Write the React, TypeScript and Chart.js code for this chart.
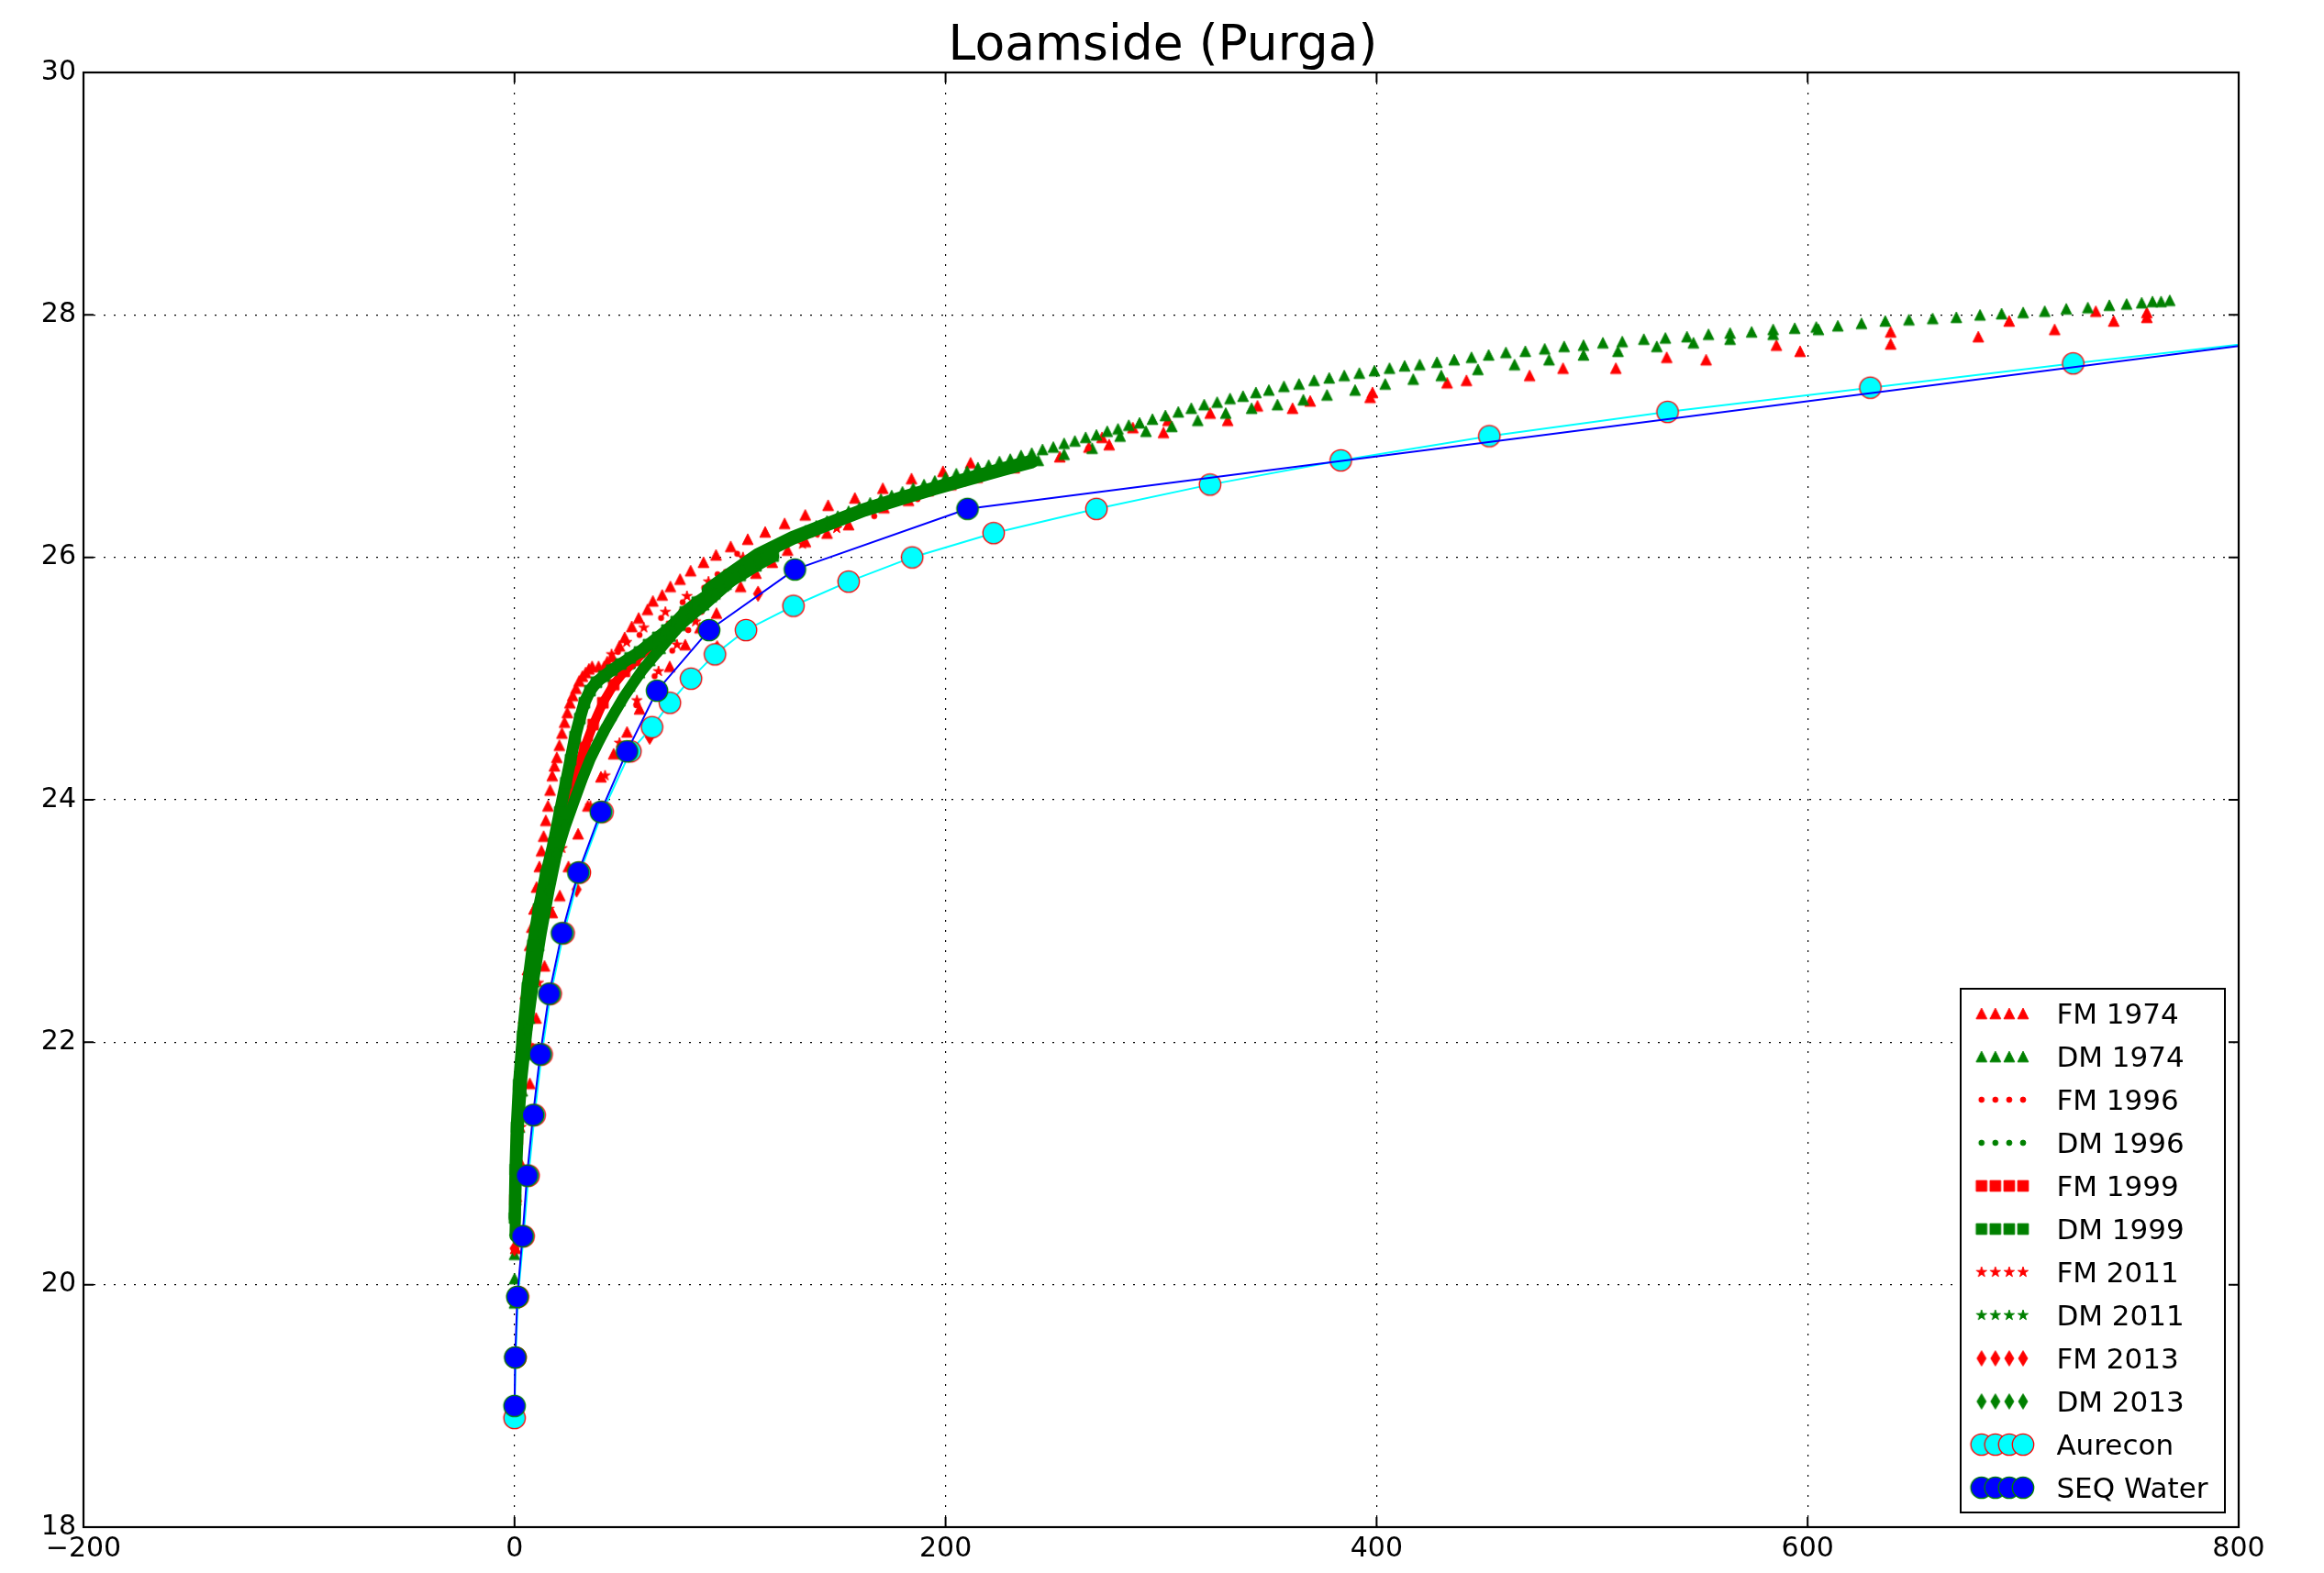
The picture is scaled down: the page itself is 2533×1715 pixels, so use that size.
import React, { useEffect, useRef } from 'react';
import { Chart, registerables } from 'chart.js';

Chart.register(...registerables);

const TITLE = 'Loamside (Purga)';
const X_TICKS = [-200, 0, 200, 400, 600, 800];
const Y_TICKS = [18, 20, 22, 24, 26, 28, 30];
const LEGEND_LABELS = ['FM 1974', 'DM 1974', 'FM 1996', 'DM 1996', 'FM 1999', 'DM 1999', 'FM 2011', 'DM 2011', 'FM 2013', 'DM 2013', 'Aurecon', 'SEQ Water'];

// FM 1974 (red triangles)
const FM1974_X = [1, 1.5, 2, 2.7, 3.5, 4.2, 5, 6, 7, 8, 9, 10.2, 11.5, 12.5, 13.5, 14.5, 15.5, 16.5, 17.5, 18.5, 19.6, 20.8, 22, 23.2, 24.5, 25.7, 27, 28.5, 30, 31.5, 33, 34.5, 36, 39, 41.6, 43, 45.4, 48.7, 51.1, 54.4, 57.6, 61.7, 64.2, 68.5, 72.3, 76.8, 81.7, 87.7, 93.5, 100.3, 108.2, 116.3, 125.3, 134.9, 145.5, 157.9, 170.9, 184.2, 198.8, 211.6,
  0.5, 3, 7.1, 10, 13.9, 17.5, 21, 25, 29.5, 34, 40.1, 46, 52.2, 58, 65, 72, 79.2, 86, 93.7, 104.9, 112, 119.6, 126.7, 135, 145, 155, 171.4, 182.8, 191.9, 202.5, 214.7, 231.9, 253, 266.5, 272.6, 275.9, 286.9, 301.1, 303.2, 322.8, 330.9, 344.7, 361, 369.2, 397, 398.1, 432.7, 441.7, 471, 486.5, 511, 534.6, 552.9, 585.5, 596.5, 638.5, 638.5, 679.2, 693.5, 714.6, 733.7, 742, 757.4, 757.4];
const FM1974_Y = [21.2, 21.4, 21.6, 21.8, 22.0, 22.2, 22.4, 22.6, 22.8, 22.95, 23.1, 23.28, 23.45, 23.58, 23.7, 23.83, 23.95, 24.08, 24.2, 24.28, 24.35, 24.45, 24.55, 24.64, 24.72, 24.8, 24.86, 24.92, 24.98, 25.02, 25.05, 25.08, 25.1, 25.1, 25.1, 25.14, 25.18, 25.27, 25.34, 25.43, 25.50, 25.57, 25.64, 25.69, 25.76, 25.82, 25.89, 25.96, 26.02, 26.09, 26.15, 26.21, 26.28, 26.35, 26.43, 26.49, 26.57, 26.65, 26.71, 26.78,
  20.3, 21.0, 21.66, 22.2, 22.63, 23.07, 23.21, 23.45, 23.72, 23.95, 24.19, 24.38, 24.56, 24.75, 24.92, 25.1, 25.28, 25.42, 25.54, 25.76, 25.87, 25.96, 26.06, 26.13, 26.2, 26.27, 26.41, 26.47, 26.55, 26.60, 26.66, 26.74, 26.83, 26.91, 26.99, 26.93, 27.07, 27.03, 27.13, 27.19, 27.13, 27.25, 27.23, 27.29, 27.32, 27.36, 27.44, 27.46, 27.50, 27.56, 27.56, 27.65, 27.63, 27.75, 27.70, 27.76, 27.86, 27.82, 27.95, 27.88, 28.03, 27.95, 27.98, 28.02];

// DM 1974 (green triangles)
const DM1974_X = [0, 0, 0, 0.2, 0.6, 1.3, 2.3, 3.6, 5.2, 7.0, 9.0, 11.3, 13.8, 16.5, 19.5, 22.8, 26.3, 29.8, 33.4, 37, 40.8, 44.8, 49, 53.4, 58, 62.8, 67.6, 72.5, 77.5, 82.6, 87.8, 93, 98.2, 103.5,
  109, 115, 120, 125, 130, 135, 140, 145, 150, 155, 160, 165, 170, 175, 180, 185, 190, 195,
  200, 205, 210, 215, 220, 225, 230, 235, 240, 245, 250, 255, 260, 265, 270, 275, 280, 285, 290, 296, 302, 308, 314, 320, 326, 332, 338, 344, 350, 357, 364, 371, 378, 385, 392, 399, 406, 413, 420, 428, 436, 444, 452, 460, 469, 478, 487, 496, 505, 514, 524, 534, 544, 554, 564, 574, 584, 594, 604, 614, 625, 636, 647, 658, 669, 680, 690, 700, 710, 720, 730, 740, 748, 755, 760, 764, 768,
  243, 255, 268, 281, 293, 305, 317, 330, 342, 354, 366, 377, 390, 404, 417, 430, 447, 464, 480, 496, 512, 530, 547, 564, 584, 605];
const DM1974_Y = [19.85, 20.05, 20.25, 20.45, 20.7, 21.0, 21.3, 21.6, 21.9, 22.2, 22.5, 22.8, 23.1, 23.35, 23.58, 23.8, 24.0, 24.16, 24.31, 24.45, 24.58, 24.7, 24.82, 24.94, 25.05, 25.15, 25.25, 25.35, 25.44, 25.53, 25.61, 25.7, 25.78, 25.86,
  25.95, 26.03, 26.08, 26.13, 26.18, 26.22, 26.26, 26.3, 26.34, 26.38, 26.41, 26.45, 26.48, 26.51, 26.54, 26.57, 26.6, 26.63,
  26.66, 26.69, 26.71, 26.74, 26.76, 26.79, 26.81, 26.84, 26.86, 26.89, 26.91, 26.94, 26.96, 26.99, 27.01, 27.04, 27.06, 27.09, 27.11, 27.14, 27.17, 27.2, 27.23, 27.26, 27.28, 27.31, 27.33, 27.36, 27.38, 27.41, 27.43, 27.46, 27.48, 27.5, 27.52, 27.54, 27.56, 27.58, 27.59, 27.61, 27.63, 27.65, 27.67, 27.69, 27.7, 27.72, 27.74, 27.75, 27.77, 27.78, 27.8, 27.81, 27.82, 27.84, 27.85, 27.86, 27.88, 27.89, 27.9, 27.91, 27.93, 27.95, 27.96, 27.97, 27.98, 28.0, 28.01, 28.02, 28.03, 28.05, 28.06, 28.08, 28.09, 28.1, 28.11, 28.11, 28.12,
  26.8, 26.85, 26.9, 27.0, 27.04, 27.08, 27.13, 27.19, 27.23, 27.26, 27.3, 27.34, 27.38, 27.43, 27.47, 27.5, 27.55, 27.59, 27.63, 27.67, 27.7, 27.74, 27.77, 27.8, 27.84, 27.88];

// FM 1996 (red dots)
const FM1996_X = [0.5, 2, 5, 9, 14, 20, 27, 35, 45, 48, 56.5, 58, 65, 68, 73.2, 78, 80.6, 86.7, 88, 94.2, 98, 103.3, 115, 125, 140.4, 166.9, 187, 209.1, 228.6, 266.3];
const FM1996_Y = [20.6, 21.3, 22.1, 22.8, 23.35, 23.8, 24.2, 24.5, 24.7, 25.22, 24.78, 25.36, 25.02, 25.5, 25.23, 25.63, 25.40, 25.55, 25.75, 25.86, 25.88, 26.03, 26.04, 26.12, 26.19, 26.34, 26.48, 26.61, 26.72, 26.90];

// DM 1996 (green dots)
const DM1996_X = [0, 1, 4, 10, 20, 35, 55, 80, 120, 160, 200];
const DM1996_Y = [20.3, 21.1, 22.1, 23.0, 23.85, 24.6, 25.1, 25.58, 26.08, 26.4, 26.62];

// FM 1999 (red squares, dense)
const FM1999_X = [0.3, 1.2, 2.6, 4.6, 7.2, 10.2, 13.5, 17, 20.5, 24.5, 28.5, 32.5, 36.5, 41, 46, 51, 56, 61.5, 67, 73, 79, 86, 93, 100];
const FM1999_Y = [20.7, 21.2, 21.6, 22.0, 22.4, 22.8, 23.15, 23.45, 23.72, 23.98, 24.22, 24.43, 24.62, 24.8, 24.95, 25.06, 25.15, 25.24, 25.33, 25.43, 25.53, 25.63, 25.73, 25.82];

// DM 1999 (green squares, dense)
const DM1999_X = [0, 0.4, 1.0, 2.0, 3.8, 6.0, 8.5, 11.2, 14.5, 18.1, 21, 23.8, 26, 28.1, 30.3, 32.4, 35, 38, 41.5, 45.1, 49.3, 53.6, 58, 62.2, 66.5, 70.7, 75, 79.2, 84.8, 90.5, 97.6, 104.7, 112, 120];
const DM1999_Y = [20.55, 20.95, 21.3, 21.65, 22.05, 22.45, 22.8, 23.1, 23.38, 23.64, 23.9, 24.14, 24.33, 24.52, 24.67, 24.80, 24.9, 24.97, 25.02, 25.07, 25.12, 25.17, 25.22, 25.28, 25.34, 25.40, 25.47, 25.55, 25.63, 25.70, 25.78, 25.85, 25.93, 26.01];

// FM 2011 (red stars)
const FM2011_X = [3, 7.5, 11.1, 16, 22, 35.2, 42, 45, 48.7, 52, 56.8, 60, 66.8, 70, 75.4, 80, 84, 90, 91.2, 100, 106, 110, 120, 133.6, 139.5, 149.5];
const FM2011_Y = [21.3, 21.97, 22.49, 23.1, 23.6, 23.95, 24.2, 25.2, 24.47, 25.3, 24.82, 25.42, 25.06, 25.55, 25.28, 25.68, 25.47, 25.8, 25.67, 25.82, 26.0, 26.0, 26.08, 26.11, 26.2, 26.24];

// DM 2011 (green stars, dense)
const DM2011_X = [90, 100, 113, 129, 146, 162, 178, 195, 211, 227, 240];
const DM2011_Y = [25.73, 25.86, 26.02, 26.16, 26.28, 26.39, 26.48, 26.57, 26.65, 26.73, 26.79];

// FM 2013 (red diamonds)
const FM2013_X = [0, 1.1, 8.5, 28.8, 62.7, 94, 113];
const FM2013_Y = [20.3, 20.69, 21.93, 23.26, 24.52, 25.25, 25.7];

// DM 2013 (green diamonds, dense)
const DM2013_X = [0.2, 0.8, 1.8, 3.4, 5.8, 8.8, 12.2, 16.0, 19.5, 23.5, 28.1, 31.6, 35.2, 38.8, 42.3, 46.5, 50.8, 55, 59.3, 63.5, 67.8, 72, 76.3, 82, 87.7, 93.4, 99.1, 106, 113];
const DM2013_Y = [20.4, 20.85, 21.3, 21.7, 22.1, 22.5, 22.88, 23.25, 23.55, 23.78, 24.01, 24.18, 24.34, 24.47, 24.59, 24.72, 24.85, 24.96, 25.07, 25.16, 25.25, 25.34, 25.43, 25.52, 25.60, 25.69, 25.78, 25.88, 25.97];

// Aurecon
const AURECON_X = [0, 0.5, 1.6, 4.2, 6.5, 9.3, 12.6, 16.8, 22.8, 30.3, 40.8, 53.8, 63.8, 72.1, 81.9, 93.0, 107.4, 129.4, 155, 184.5, 222.3, 270, 322.7, 383.4, 452.3, 535, 629.1, 723.2, 822];
const AURECON_Y = [18.9, 19.4, 19.9, 20.4, 20.9, 21.4, 21.9, 22.4, 22.9, 23.4, 23.9, 24.4, 24.6, 24.8, 25.0, 25.2, 25.4, 25.6, 25.8, 26.0, 26.2, 26.4, 26.6, 26.8, 27.0, 27.2, 27.4, 27.6, 27.8];

// SEQ Water
const SEQ_X = [0, 0.3, 1.3, 3.7, 5.8, 8.6, 11.9, 16.1, 22.0, 29.6, 40.0, 52.2, 66.1, 90.3, 130.1, 210.2, 1000];
const SEQ_Y = [19.0, 19.4, 19.9, 20.4, 20.9, 21.4, 21.9, 22.4, 22.9, 23.4, 23.9, 24.4, 24.9, 25.4, 25.9, 26.4, 28.2];

const RED = '#ff0000';
const GREEN = '#008000';
const FONT = "'DejaVu Sans'";

type Kind = 'tri' | 'dot' | 'sq' | 'star' | 'dia' | 'circle';

function makeMarker(kind: Kind, face: string, edge: string, edgeWidth: number): HTMLCanvasElement {
  const S = 11.7;
  let w = S, h = S;
  if (kind === 'dot') { w = h = S * 0.5; }
  if (kind === 'dia') { h = S * Math.SQRT2; w = h * 0.6; }
  if (kind === 'circle') { w = h = 23.4; }
  const pad = edgeWidth + 2;
  const cw = Math.ceil(w + 2 * pad);
  const ch = Math.ceil(h + 2 * pad);
  const c = document.createElement('canvas');
  c.width = cw;
  c.height = ch;
  const ctx = c.getContext('2d') as CanvasRenderingContext2D;
  const cx = cw / 2, cy = ch / 2;
  ctx.beginPath();
  if (kind === 'tri') {
    ctx.moveTo(cx, cy - h / 2); ctx.lineTo(cx + w / 2, cy + h / 2); ctx.lineTo(cx - w / 2, cy + h / 2); ctx.closePath();
  } else if (kind === 'sq') {
    ctx.rect(cx - w / 2, cy - h / 2, w, h);
  } else if (kind === 'dot' || kind === 'circle') {
    ctx.arc(cx, cy, w / 2, 0, Math.PI * 2);
  } else if (kind === 'dia') {
    ctx.moveTo(cx, cy - h / 2); ctx.lineTo(cx + w / 2, cy); ctx.lineTo(cx, cy + h / 2); ctx.lineTo(cx - w / 2, cy); ctx.closePath();
  } else if (kind === 'star') {
    const R = S / 2, r = R * 0.381966;
    for (let i = 0; i < 10; i++) {
      const rad = i % 2 === 0 ? R : r;
      const a = -Math.PI / 2 + (i * Math.PI) / 5;
      const px = cx + rad * Math.cos(a), py = cy + rad * Math.sin(a);
      if (i === 0) ctx.moveTo(px, py); else ctx.lineTo(px, py);
    }
    ctx.closePath();
  }
  ctx.fillStyle = face;
  ctx.fill();
  if (edgeWidth > 0) { ctx.lineWidth = edgeWidth; ctx.strokeStyle = edge; ctx.stroke(); }
  return c;
}

const pts = (xs: number[], ys: number[]) => xs.map((x, i) => ({ x, y: ys[i] }));
const fmt = (v: number) => (v < 0 ? '\u2212' + Math.abs(v) : String(v));

export default function App() {
  const ref = useRef<HTMLCanvasElement | null>(null);
  useEffect(() => {
    if (!ref.current) return;
    const markers = [
      makeMarker('tri', RED, RED, 1),
      makeMarker('tri', GREEN, GREEN, 1),
      makeMarker('dot', RED, RED, 1),
      makeMarker('dot', GREEN, GREEN, 1),
      makeMarker('sq', RED, RED, 1),
      makeMarker('sq', GREEN, GREEN, 1),
      makeMarker('star', RED, RED, 1),
      makeMarker('star', GREEN, GREEN, 1),
      makeMarker('dia', RED, RED, 1),
      makeMarker('dia', GREEN, GREEN, 1),
      makeMarker('circle', '#00ffff', RED, 1.3),
      makeMarker('circle', '#0000ff', GREEN, 1.3),
    ];
    const series: [number[], number[]][] = [
      [FM1974_X, FM1974_Y], [DM1974_X, DM1974_Y], [FM1996_X, FM1996_Y], [DM1996_X, DM1996_Y],
      [FM1999_X, FM1999_Y], [DM1999_X, DM1999_Y], [FM2011_X, FM2011_Y], [DM2011_X, DM2011_Y],
      [FM2013_X, FM2013_Y], [DM2013_X, DM2013_Y], [AURECON_X, AURECON_Y], [SEQ_X, SEQ_Y],
    ];
    // dense marker trails drawn as a thick stroke of the same colour
    const trail: Record<number, { color: string; width: number }> = {
      4: { color: RED, width: 10 },
      5: { color: GREEN, width: 13 },
      7: { color: GREEN, width: 15 },
      9: { color: GREEN, width: 12 },
      10: { color: '#00ffff', width: 2 },
      11: { color: '#0000ff', width: 2 },
    };
    const datasets = series.map(([xs, ys], i) => {
      const t = trail[i];
      return {
        label: LEGEND_LABELS[i],
        data: pts(xs, ys),
        pointStyle: markers[i],
        pointRadius: 5,
        showLine: !!t,
        borderColor: t ? t.color : 'rgba(0,0,0,0)',
        backgroundColor: t ? t.color : 'rgba(0,0,0,0)',
        borderWidth: t ? t.width : 0,
        borderJoinStyle: 'round' as const,
        borderCapStyle: 'round' as const,
        tension: 0,
        order: 11 - i,
      };
    });

    const decor = {
      id: 'decor',
      afterDraw(chart: any) {
        const ctx = chart.ctx as CanvasRenderingContext2D;
        const a = chart.chartArea;
        const xs = chart.scales.x, ys = chart.scales.y;
        ctx.save();
        ctx.strokeStyle = '#000';
        ctx.lineWidth = 2;
        const TL = 11;
        X_TICKS.forEach((v) => {
          const px = xs.getPixelForValue(v);
          ctx.beginPath();
          ctx.moveTo(px, a.bottom); ctx.lineTo(px, a.bottom - TL);
          ctx.moveTo(px, a.top); ctx.lineTo(px, a.top + TL);
          ctx.stroke();
        });
        Y_TICKS.forEach((v) => {
          const py = ys.getPixelForValue(v);
          ctx.beginPath();
          ctx.moveTo(a.left, py); ctx.lineTo(a.left + TL, py);
          ctx.moveTo(a.right, py); ctx.lineTo(a.right - TL, py);
          ctx.stroke();
        });
        ctx.lineWidth = 2.2;
        ctx.strokeRect(a.left, a.top, a.right - a.left, a.bottom - a.top);
        ctx.fillStyle = '#000';
        ctx.font = `53.5px ${FONT}`;
        ctx.textAlign = 'center';
        ctx.textBaseline = 'alphabetic';
        ctx.fillText(TITLE, (a.left + a.right) / 2 + 2, a.top - 14);
        const bw = 288, bh = 571;
        const bx = a.right - 15 - bw, by = a.bottom - 16 - bh;
        ctx.fillStyle = '#fff';
        ctx.fillRect(bx, by, bw, bh);
        ctx.lineWidth = 2;
        ctx.strokeStyle = '#000';
        ctx.strokeRect(bx, by, bw, bh);
        ctx.font = `31px ${FONT}`;
        ctx.textAlign = 'left';
        ctx.fillStyle = '#000';
        const offs = [22.7, 37.8, 52.9, 68];
        LEGEND_LABELS.forEach((lab, i) => {
          const cy = by + 27 + i * 47.0;
          const m = markers[i];
          offs.forEach((o) => ctx.drawImage(m, bx + o - m.width / 2, cy - m.height / 2));
          ctx.fillText(lab, bx + 104.4, cy + 0.3645 * 31);
        });
        ctx.restore();
      },
    };

    const chart = new Chart(ref.current, {
      type: 'scatter',
      data: { datasets: datasets as any },
      options: {
        animation: false,
        responsive: false,
        devicePixelRatio: 1,
        events: [],
        layout: { padding: { top: 79, right: 93, bottom: 0, left: 0 } },
        plugins: { legend: { display: false }, tooltip: { enabled: false }, title: { display: false } },
        scales: {
          x: {
            type: 'linear', min: -200, max: 800,
            afterBuildTicks: (s: any) => { s.ticks = X_TICKS.map((v) => ({ value: v })); },
            afterFit: (s: any) => { s.height = 50; },
            ticks: { color: '#000', font: { family: FONT, size: 30 }, padding: 6, maxRotation: 0, autoSkip: false, callback: (v: any) => fmt(Number(v)) },
            grid: { color: '#000', lineWidth: 1.2, drawTicks: false },
            border: { display: false, dash: [2, 9] },
          },
          y: {
            type: 'linear', min: 18, max: 30,
            afterBuildTicks: (s: any) => { s.ticks = Y_TICKS.map((v) => ({ value: v })); },
            afterFit: (s: any) => { s.width = 91; },
            ticks: { color: '#000', font: { family: FONT, size: 30 }, padding: 8, autoSkip: false, callback: (v: any) => fmt(Number(v)) },
            grid: { color: '#000', lineWidth: 1.2, drawTicks: false },
            border: { display: false, dash: [2, 9] },
          },
        },
      },
      plugins: [decor],
    } as any);
    return () => chart.destroy();
  }, []);

  return (
    <div style={{ position: 'absolute', left: 0, top: 0, width: 2533, height: 1715, background: '#fff' }}>
      <canvas ref={ref} width={2533} height={1715} style={{ display: 'block', width: 2533, height: 1715 }} />
    </div>
  );
}
